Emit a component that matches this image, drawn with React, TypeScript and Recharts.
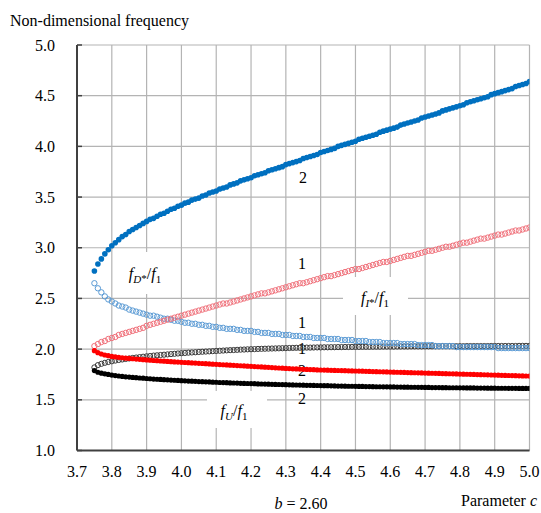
import React, { useLayoutEffect, useRef } from 'react';
import { ScatterChart, Scatter, XAxis, YAxis, CartesianGrid } from 'recharts';

// Parameter c (x values of every series)
const cValues = [
  3.75, 3.76, 3.77, 3.78, 3.79, 3.80, 3.81, 3.82, 3.83, 3.84,
  3.85, 3.86, 3.87, 3.88, 3.89, 3.90, 3.91, 3.92, 3.93, 3.94,
  3.95, 3.96, 3.97, 3.98, 3.99, 4.00, 4.01, 4.02, 4.03, 4.04,
  4.05, 4.06, 4.07, 4.08, 4.09, 4.10, 4.11, 4.12, 4.13, 4.14,
  4.15, 4.16, 4.17, 4.18, 4.19, 4.20, 4.21, 4.22, 4.23, 4.24,
  4.25, 4.26, 4.27, 4.28, 4.29, 4.30, 4.31, 4.32, 4.33, 4.34,
  4.35, 4.36, 4.37, 4.38, 4.39, 4.40, 4.41, 4.42, 4.43, 4.44,
  4.45, 4.46, 4.47, 4.48, 4.49, 4.50, 4.51, 4.52, 4.53, 4.54,
  4.55, 4.56, 4.57, 4.58, 4.59, 4.60, 4.61, 4.62, 4.63, 4.64,
  4.65, 4.66, 4.67, 4.68, 4.69, 4.70, 4.71, 4.72, 4.73, 4.74,
  4.75, 4.76, 4.77, 4.78, 4.79, 4.80, 4.81, 4.82, 4.83, 4.84,
  4.85, 4.86, 4.87, 4.88, 4.89, 4.90, 4.91, 4.92, 4.93, 4.94,
  4.95, 4.96, 4.97, 4.98, 4.99, 5.00,
];

// fD*/f1, mode 2 (blue filled)
const blue2 = [
  2.77, 2.84, 2.89, 2.94, 2.98, 3.02, 3.05, 3.08, 3.11, 3.13,
  3.16, 3.18, 3.20, 3.22, 3.24, 3.26, 3.28, 3.29, 3.31, 3.33,
  3.34, 3.36, 3.38, 3.39, 3.41, 3.42, 3.44, 3.45, 3.47, 3.48,
  3.49, 3.51, 3.52, 3.54, 3.55, 3.56, 3.58, 3.59, 3.60, 3.62,
  3.63, 3.64, 3.66, 3.67, 3.68, 3.69, 3.71, 3.72, 3.73, 3.74,
  3.76, 3.77, 3.78, 3.79, 3.80, 3.82, 3.83, 3.84, 3.85, 3.86,
  3.88, 3.89, 3.90, 3.91, 3.92, 3.94, 3.95, 3.96, 3.97, 3.98,
  4.00, 4.01, 4.02, 4.03, 4.04, 4.05, 4.07, 4.08, 4.09, 4.10,
  4.11, 4.12, 4.14, 4.15, 4.16, 4.17, 4.18, 4.19, 4.21, 4.22,
  4.23, 4.24, 4.25, 4.26, 4.28, 4.29, 4.30, 4.31, 4.32, 4.33,
  4.35, 4.36, 4.37, 4.38, 4.39, 4.40, 4.41, 4.43, 4.44, 4.45,
  4.46, 4.47, 4.48, 4.49, 4.51, 4.52, 4.53, 4.54, 4.55, 4.56,
  4.57, 4.59, 4.60, 4.61, 4.62, 4.64,
];

// fD*/f1, mode 1 (blue open)
const blue1 = [
  2.65, 2.60, 2.56, 2.52, 2.49, 2.47, 2.45, 2.43, 2.42, 2.41,
  2.39, 2.38, 2.37, 2.36, 2.35, 2.34, 2.33, 2.33, 2.32, 2.31,
  2.30, 2.30, 2.29, 2.28, 2.28, 2.27, 2.26, 2.26, 2.25, 2.25,
  2.24, 2.24, 2.23, 2.23, 2.22, 2.22, 2.21, 2.21, 2.20, 2.20,
  2.20, 2.19, 2.19, 2.18, 2.18, 2.18, 2.17, 2.17, 2.16, 2.16,
  2.16, 2.15, 2.15, 2.15, 2.14, 2.14, 2.14, 2.13, 2.13, 2.13,
  2.12, 2.12, 2.12, 2.11, 2.11, 2.11, 2.11, 2.10, 2.10, 2.10,
  2.10, 2.09, 2.09, 2.09, 2.09, 2.08, 2.08, 2.08, 2.08, 2.07,
  2.07, 2.07, 2.07, 2.06, 2.06, 2.06, 2.06, 2.06, 2.05, 2.05,
  2.05, 2.05, 2.05, 2.04, 2.04, 2.04, 2.04, 2.04, 2.03, 2.03,
  2.03, 2.03, 2.03, 2.03, 2.02, 2.02, 2.02, 2.02, 2.02, 2.02,
  2.02, 2.02, 2.02, 2.02, 2.02, 2.02, 2.01, 2.01, 2.01, 2.01,
  2.01, 2.01, 2.01, 2.01, 2.01, 2.01,
];

// fI*/f1, mode 1 (red open)
const red1 = [
  2.03, 2.05, 2.07, 2.08, 2.10, 2.11, 2.12, 2.14, 2.15, 2.16,
  2.17, 2.18, 2.19, 2.20, 2.21, 2.23, 2.24, 2.25, 2.26, 2.27,
  2.28, 2.29, 2.30, 2.31, 2.32, 2.33, 2.34, 2.35, 2.36, 2.37,
  2.38, 2.39, 2.40, 2.41, 2.42, 2.43, 2.44, 2.45, 2.45, 2.46,
  2.47, 2.48, 2.49, 2.50, 2.51, 2.52, 2.53, 2.54, 2.55, 2.55,
  2.56, 2.57, 2.58, 2.59, 2.60, 2.61, 2.62, 2.63, 2.64, 2.65,
  2.65, 2.66, 2.67, 2.68, 2.69, 2.70, 2.71, 2.72, 2.72, 2.73,
  2.74, 2.75, 2.76, 2.77, 2.78, 2.79, 2.79, 2.80, 2.81, 2.82,
  2.83, 2.84, 2.85, 2.86, 2.86, 2.87, 2.88, 2.89, 2.90, 2.91,
  2.92, 2.92, 2.93, 2.94, 2.95, 2.96, 2.97, 2.97, 2.98, 2.99,
  3.00, 3.01, 3.01, 3.02, 3.03, 3.04, 3.05, 3.05, 3.06, 3.07,
  3.08, 3.09, 3.09, 3.10, 3.11, 3.12, 3.13, 3.13, 3.14, 3.15,
  3.16, 3.17, 3.17, 3.18, 3.19, 3.20,
];

// fI*/f1, mode 2 (red filled)
const red2 = [
  1.985, 1.965, 1.952, 1.942, 1.935, 1.928, 1.923, 1.919, 1.915, 1.911,
  1.908, 1.905, 1.902, 1.899, 1.896, 1.893, 1.891, 1.888, 1.886, 1.883,
  1.881, 1.879, 1.876, 1.874, 1.872, 1.870, 1.868, 1.866, 1.864, 1.862,
  1.860, 1.858, 1.856, 1.854, 1.852, 1.850, 1.848, 1.846, 1.844, 1.842,
  1.840, 1.838, 1.836, 1.834, 1.832, 1.830, 1.828, 1.826, 1.824, 1.822,
  1.820, 1.818, 1.816, 1.814, 1.812, 1.810, 1.808, 1.806, 1.805, 1.803,
  1.801, 1.800, 1.798, 1.797, 1.795, 1.794, 1.793, 1.792, 1.791, 1.790,
  1.789, 1.788, 1.787, 1.786, 1.785, 1.784, 1.783, 1.782, 1.781, 1.780,
  1.779, 1.778, 1.777, 1.776, 1.775, 1.774, 1.773, 1.772, 1.771, 1.770,
  1.769, 1.768, 1.767, 1.766, 1.765, 1.764, 1.763, 1.762, 1.761, 1.760,
  1.759, 1.758, 1.757, 1.756, 1.755, 1.754, 1.753, 1.752, 1.751, 1.750,
  1.749, 1.748, 1.747, 1.746, 1.745, 1.744, 1.743, 1.742, 1.741, 1.740,
  1.739, 1.738, 1.737, 1.736, 1.735, 1.734,
];

// fU/f1, mode 1 (black open)
const black1 = [
  1.820, 1.842, 1.855, 1.865, 1.873, 1.880, 1.887, 1.893, 1.898, 1.903,
  1.908, 1.913, 1.917, 1.921, 1.925, 1.929, 1.932, 1.936, 1.939, 1.942,
  1.945, 1.948, 1.951, 1.954, 1.957, 1.960, 1.962, 1.965, 1.967, 1.969,
  1.972, 1.974, 1.976, 1.978, 1.980, 1.982, 1.984, 1.986, 1.988, 1.990,
  1.991, 1.993, 1.995, 1.996, 1.998, 1.999, 2.000, 2.002, 2.003, 2.004,
  2.005, 2.006, 2.007, 2.008, 2.009, 2.010, 2.011, 2.012, 2.013, 2.013,
  2.014, 2.015, 2.015, 2.016, 2.017, 2.017, 2.018, 2.018, 2.019, 2.019,
  2.020, 2.020, 2.021, 2.021, 2.022, 2.022, 2.022, 2.023, 2.023, 2.023,
  2.024, 2.024, 2.024, 2.025, 2.025, 2.025, 2.025, 2.026, 2.026, 2.026,
  2.026, 2.027, 2.027, 2.027, 2.027, 2.027, 2.028, 2.028, 2.028, 2.028,
  2.029, 2.029, 2.029, 2.029, 2.029, 2.029, 2.029, 2.030, 2.030, 2.030,
  2.030, 2.030, 2.030, 2.030, 2.031, 2.031, 2.031, 2.031, 2.031, 2.031,
  2.031, 2.031, 2.032, 2.032, 2.032, 2.032,
];

// fU/f1, mode 2 (black filled)
const black2 = [
  1.788, 1.772, 1.763, 1.756, 1.750, 1.744, 1.739, 1.735, 1.731, 1.727,
  1.724, 1.721, 1.718, 1.715, 1.713, 1.710, 1.708, 1.705, 1.703, 1.701,
  1.699, 1.697, 1.695, 1.693, 1.691, 1.689, 1.687, 1.685, 1.684, 1.682,
  1.680, 1.679, 1.677, 1.676, 1.674, 1.673, 1.671, 1.670, 1.669, 1.667,
  1.666, 1.665, 1.663, 1.662, 1.661, 1.660, 1.659, 1.657, 1.656, 1.655,
  1.654, 1.653, 1.652, 1.651, 1.650, 1.649, 1.648, 1.647, 1.646, 1.645,
  1.644, 1.643, 1.643, 1.642, 1.641, 1.640, 1.639, 1.639, 1.638, 1.637,
  1.636, 1.636, 1.635, 1.634, 1.634, 1.633, 1.632, 1.632, 1.631, 1.631,
  1.630, 1.629, 1.629, 1.628, 1.628, 1.627, 1.627, 1.626, 1.626, 1.625,
  1.625, 1.624, 1.624, 1.623, 1.623, 1.622, 1.622, 1.621, 1.621, 1.621,
  1.620, 1.620, 1.619, 1.619, 1.619, 1.618, 1.618, 1.617, 1.617, 1.617,
  1.616, 1.616, 1.616, 1.615, 1.615, 1.615, 1.614, 1.614, 1.614, 1.613,
  1.613, 1.613, 1.612, 1.612, 1.612, 1.612,
];

const xTicks = [3.7, 3.8, 3.9, 4.0, 4.1, 4.2, 4.3, 4.4, 4.5, 4.6, 4.7, 4.8, 4.9, 5.0];
const yTicks = [1.0, 1.5, 2.0, 2.5, 3.0, 3.5, 4.0, 4.5, 5.0];

const FONT = 'Liberation Serif';
const FS = 16;
const TXT = { fontFamily: FONT, fontSize: FS };

const toPoints = (ys: number[]) => cValues.map((c, i) => ({ c, v: ys[i] }));

const dot = (r: number, fill: string, stroke: string, sw: number) => (props: any) => {
  if (props.cx == null || props.cy == null) return <g />;
  return <circle cx={props.cx} cy={props.cy} r={r} fill={fill} stroke={stroke} strokeWidth={sw} />;
};

const Frac = ({ x, y, sub, box }: { x: number; y: number; sub: string; box: [number, number, number, number] }) => {
  const star = sub.includes('*');
  return (
    <g>
      <rect x={box[0]} y={box[1]} width={box[2]} height={box[3]} fill="#fff" stroke="none" />
      <text x={x} y={y} style={TXT} fontFamily={FONT} fill="#000" textAnchor="middle">
        <tspan style={{ fontStyle: 'italic' }}>f</tspan>
        <tspan style={{ fontStyle: 'italic', fontSize: 11 }} dy={4}>{sub.replace('*', '')}</tspan>
        {star ? <tspan style={{ fontSize: 11 }} dy={-1}>*</tspan> : null}
        <tspan dy={star ? -3 : -4}>/</tspan>
        <tspan style={{ fontStyle: 'italic' }}>f</tspan>
        <tspan style={{ fontSize: 11 }} dy={4}>1</tspan>
      </text>
    </g>
  );
};

const Num = ({ x, y, t }: { x: number; y: number; t: string }) => (
  <text x={x} y={y} style={TXT} fontFamily={FONT} fill="#000" textAnchor="middle">{t}</text>
);

const tickStyle = { fill: '#000', fontFamily: FONT, fontSize: FS, style: TXT };

export default function App() {
  const ref = useRef<HTMLDivElement>(null);

  useLayoutEffect(() => {
    const root = ref.current;
    if (!root) return;
    const apply = () => {
      root.querySelectorAll('text, tspan').forEach((el) => {
        (el as SVGElement).style.setProperty('font-family', FONT, 'important');
      });
    };
    apply();
    const obs = new MutationObserver(apply);
    obs.observe(root, { childList: true, subtree: true });
    const t1 = setTimeout(apply, 0);
    const t2 = setTimeout(apply, 200);
    return () => {
      obs.disconnect();
      clearTimeout(t1);
      clearTimeout(t2);
    };
  }, []);

  return (
    <div ref={ref} style={{ position: 'absolute', left: 0, top: 0, width: 541, height: 513, background: '#fff', fontFamily: FONT }}>
      <ScatterChart width={541} height={513} margin={{ top: 45, right: 11.5, bottom: 32.5, left: 17 }}>
        <CartesianGrid stroke="#b4b4b4" strokeWidth={1.2} />
        <XAxis
          type="number"
          dataKey="c"
          domain={[3.7, 5.0]}
          ticks={xTicks}
          interval={0}
          height={30}
          allowDataOverflow
          tickFormatter={(t: number) => t.toFixed(1)}
          tickLine={false}
          tickSize={0}
          tickMargin={15}
          axisLine={{ stroke: '#404040', strokeWidth: 2 }}
          tick={tickStyle}
        />
        <XAxis xAxisId="top" orientation="top" type="number" domain={[3.7, 5.0]} height={0} tick={false} tickLine={false}
          axisLine={{ stroke: '#404040', strokeWidth: 1.5 }} />
        <YAxis
          type="number"
          dataKey="v"
          domain={[1, 5]}
          ticks={yTicks}
          interval={0}
          width={60}
          allowDataOverflow
          tickFormatter={(t: number) => t.toFixed(1)}
          tickSize={-5}
          tickMargin={27}
          tickLine={{ stroke: '#404040', strokeWidth: 1.5 }}
          axisLine={{ stroke: '#404040', strokeWidth: 2 }}
          tick={tickStyle}
        />
        <YAxis yAxisId="right" orientation="right" type="number" domain={[1, 5]} width={0} tick={false} tickLine={false}
          axisLine={{ stroke: '#404040', strokeWidth: 1.5 }} />

        <Frac x={145} y={279} sub="D*" box={[118, 252, 60, 42]} />
        <Frac x={375} y={303} sub="I*" box={[343, 277, 65, 38]} />
        <Frac x={234} y={416} sub="U" box={[207, 391, 60, 37]} />

        <Scatter data={toPoints(black1)} isAnimationActive={false} shape={dot(2.6, 'none', '#3a3a3a', 1)} />
        <Scatter data={toPoints(black2)} isAnimationActive={false} shape={dot(2.6, '#000', 'none', 0)} />
        <Scatter data={toPoints(blue1)} isAnimationActive={false} shape={dot(2.7, 'none', '#5b9bd5', 1)} />
        <Scatter data={toPoints(red1)} isAnimationActive={false} shape={dot(2.7, 'none', '#f0707a', 1)} />
        <Scatter data={toPoints(red2)} isAnimationActive={false} shape={dot(2.6, '#ff0000', 'none', 0)} />
        <Scatter data={toPoints(blue2)} isAnimationActive={false} shape={dot(2.8, '#0070c0', 'none', 0)} />

        <text x={10} y={26} style={TXT} fontFamily={FONT} fill="#000">Non-dimensional  frequency</text>
        <text x={537} y={506} style={TXT} fontFamily={FONT} fill="#000" textAnchor="end">
          Parameter  <tspan style={{ fontStyle: 'italic' }}>c</tspan>
        </text>
        <text x={301} y={509} style={TXT} fontFamily={FONT} fill="#000" textAnchor="middle">
          <tspan style={{ fontStyle: 'italic' }}>b</tspan> = 2.60
        </text>

        <Num x={303} y={183} t="2" />
        <Num x={302} y={269} t="1" />
        <Num x={302} y={328} t="1" />
        <Num x={302} y={354} t="1" />
        <Num x={302} y={376} t="2" />
        <Num x={302} y={404} t="2" />
      </ScatterChart>
    </div>
  );
}
